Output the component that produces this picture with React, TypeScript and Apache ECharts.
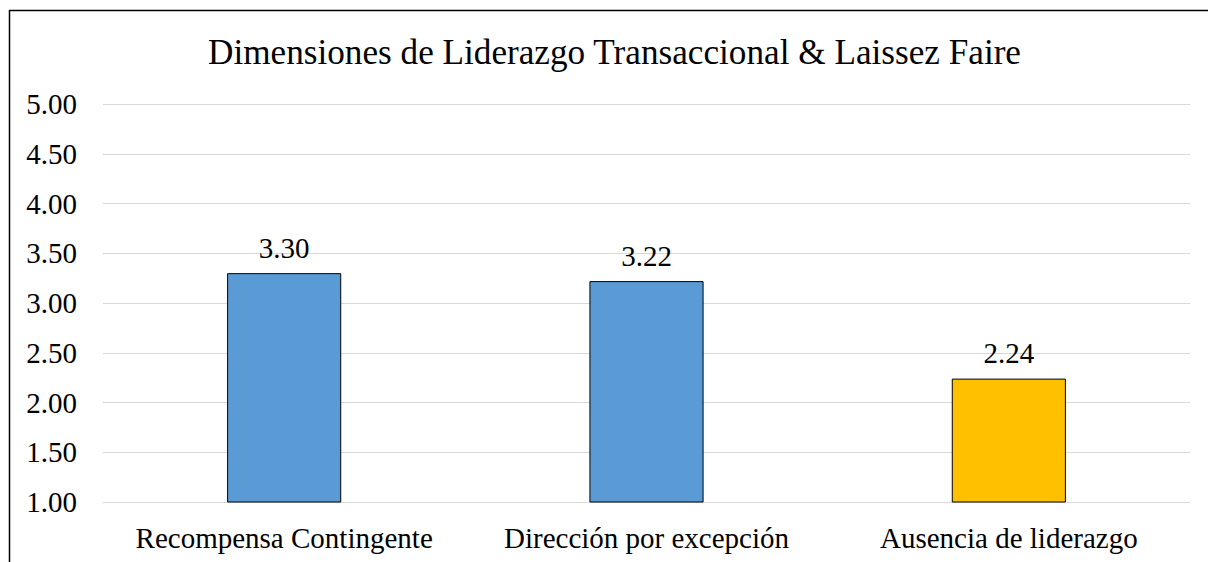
import React, { useEffect, useRef } from "react";
import * as echarts from "echarts";

const categories = ["Recompensa Contingente", "Dirección por excepción", "Ausencia de liderazgo"];
const values = [3.3, 3.22, 2.24];
const barColors = ["#5B9BD5", "#5B9BD5", "#FFC000"];
const titleText = "Dimensiones de Liderazgo Transaccional & Laissez Faire";

const FONT = "Liberation Serif";

export default function App() {
  const ref = useRef<HTMLDivElement>(null);
  useEffect(() => {
    if (!ref.current) return;
    const chart = echarts.init(ref.current, null, { renderer: "svg" });
    chart.setOption({
      animation: false,
      backgroundColor: "#fff",
      textStyle: { fontFamily: FONT },
      title: {
        text: titleText,
        left: 203,
        top: 30,
        textStyle: { fontFamily: FONT, fontSize: 35.2, fontWeight: "normal", color: "#000" },
      },
      graphic: [
        {
          type: "line",
          shape: { x1: 9, y1: 10.5, x2: 1208, y2: 10.5 },
          style: { stroke: "#000", lineWidth: 1.5 },
          silent: true,
        },
        {
          type: "line",
          shape: { x1: 9.5, y1: 10, x2: 9.5, y2: 562 },
          style: { stroke: "#000", lineWidth: 1.5 },
          silent: true,
        },
      ],
      grid: { left: 103, right: 18, top: 104, bottom: 60 },
      xAxis: {
        type: "category",
        data: categories,
        axisTick: { show: false },
        axisLine: { show: true, lineStyle: { color: "#D9D9D9", width: 1 } },
        axisLabel: { fontFamily: FONT, fontSize: 29, color: "#000", margin: 21, interval: 0 },
      },
      yAxis: {
        type: "value",
        min: 1,
        max: 5,
        interval: 0.5,
        axisLine: { show: false },
        axisTick: { show: false },
        splitLine: { lineStyle: { color: "#D9D9D9", width: 1 } },
        axisLabel: {
          fontFamily: FONT,
          fontSize: 29,
          color: "#000",
          margin: 26,
          formatter: (v: number) => v.toFixed(2),
        },
      },
      series: [
        {
          type: "bar",
          barWidth: "31.5%",
          data: values.map((v, i) => ({
            value: v,
            itemStyle: { color: barColors[i], borderColor: "#000", borderWidth: 1 },
          })),
          label: {
            show: true,
            position: "top",
            distance: 11,
            fontFamily: FONT,
            fontSize: 29,
            color: "#000",
            formatter: (p: any) => Number(p.value).toFixed(2),
          },
        },
      ],
    });
    return () => chart.dispose();
  }, []);
  return (
    <div
      ref={ref}
      style={{ position: "fixed", left: 0, top: 0, width: 1208, height: 562 }}
    />
  );
}
